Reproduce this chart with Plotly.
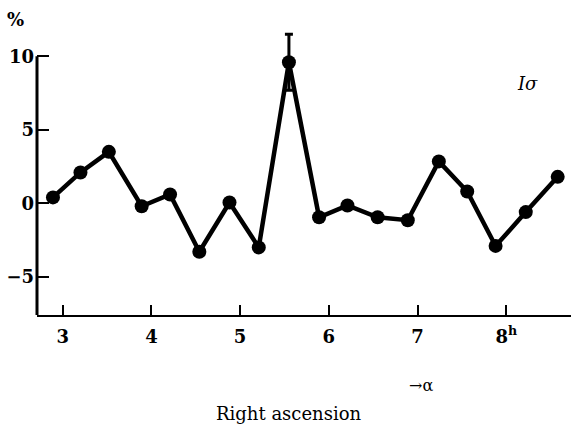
import plotly.graph_objects as go

# Data
right_ascension = [2.89, 3.20, 3.52, 3.89, 4.21, 4.54, 4.88, 5.21, 5.55,
                   5.89, 6.21, 6.55, 6.89, 7.24, 7.56, 7.88, 8.22, 8.58]
percent = [0.4, 2.1, 3.5, -0.2, 0.6, -3.3, 0.05, -3.0, 9.6,
           -0.95, -0.15, -0.95, -1.15, 2.85, 0.8, -2.9, -0.6, 1.8]
errors = [0, 0, 0, 0, 0, 0, 0, 0, 1.9,
          0, 0, 0, 0, 0, 0, 0, 0, 0]

x_tickvals = [3, 4, 5, 6, 7, 8]
x_ticktext = ["3", "4", "5", "6", "7", "8<sup>h</sup>"]
y_tickvals = [-5, 0, 5, 10]
y_ticktext = ["\u22125", "0", "5", "10"]

FONT = "DejaVu Serif"

fig = go.Figure()
fig.add_trace(go.Scatter(
    x=right_ascension, y=percent, mode="lines+markers",
    line=dict(color="black", width=4.5),
    marker=dict(color="black", size=14),
    error_y=dict(type="data", array=errors, visible=True,
                 color="black", thickness=3, width=4),
    showlegend=False, cliponaxis=False,
))

def ann(text, x, y, size, weight="normal"):
    return dict(text=text, xref="paper", yref="paper", x=x, y=y,
                xanchor="center", yanchor="middle", showarrow=False,
                font=dict(family=FONT, size=size, color="black", weight=weight))

tick_font = dict(family=FONT, size=18, color="black", weight="bold")

fig.update_layout(
    width=571, height=426,
    margin=dict(l=37, r=0, t=24, b=111),
    paper_bgcolor="white", plot_bgcolor="white",
    font=dict(family=FONT, color="black", size=18),
    xaxis=dict(range=[2.71, 8.73], tickvals=x_tickvals, ticktext=x_ticktext,
               ticks="inside", ticklen=10, tickwidth=2, tickcolor="black",
               showline=True, linecolor="black", linewidth=2,
               showgrid=False, zeroline=False, tickfont=tick_font,
               ticklabelstandoff=4),
    yaxis=dict(range=[-7.6, 12.2], tickvals=y_tickvals, ticktext=y_ticktext,
               ticks="inside", ticklen=12, tickwidth=2, tickcolor="black",
               showline=False, showgrid=False, zeroline=False,
               ticklabelstandoff=2, tickfont=tick_font),
    shapes=[dict(type="line", xref="paper", yref="y", x0=0, x1=0,
                 y0=-7.6, y1=10, line=dict(color="black", width=3))],
    annotations=[
        ann("%", -0.041, 1.014, 18, "bold"),
        ann("<i>I\u03c3</i>", 0.918, 0.797, 18),
        ann("\u2192\u03b1", 0.72, -0.241, 16),
        ann("Right ascension", 0.472, -0.340, 18),
    ],
)

fig.write_html("out.html", config={"displayModeBar": False},
               post_script="document.body.style.margin='0';")
